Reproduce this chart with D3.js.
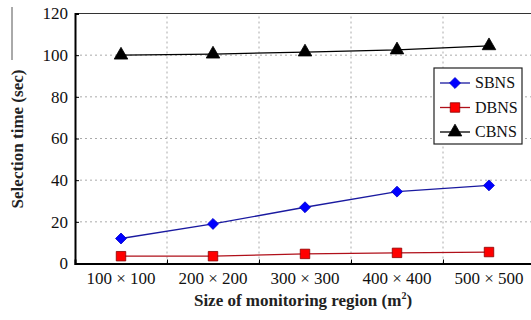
<!DOCTYPE html>
<html><head><meta charset="utf-8">
<script src="https://cdn.jsdelivr.net/npm/d3@7"></script>
<style>body{margin:0;background:#fff}svg{display:block}</style>
</head><body>
<script>
const categories = ["100 × 100","200 × 200","300 × 300","400 × 400","500 × 500"];
const sbns = [12, 19, 27, 34.5, 37.5];
const dbns = [3.5, 3.5, 4.6, 5.1, 5.5];
const cbns = [100, 100.5, 101.5, 102.5, 104.5];
const yTicks = [0, 20, 40, 60, 80, 100, 120];
const seriesNames = ["SBNS","DBNS","CBNS"];

const W = 531, H = 320;
const m = {l: 75, r: -4, t: 13.5, b: 56.5};
const svg = d3.select("body").append("svg").attr("width", W).attr("height", H);

const x = d3.scaleLinear().domain([0.5, 5.5]).range([m.l, W - m.r]);
const y = d3.scaleLinear().domain([0, 120]).range([H - m.b, m.t]);

const g = svg.append("g");
g.selectAll(".hg").data(yTicks.filter(v => v > 0 && v < 120)).enter().append("line")
  .attr("x1", m.l).attr("x2", W).attr("y1", d => y(d)).attr("y2", d => y(d))
  .attr("stroke", "#aaa").attr("stroke-dasharray", "2,3").attr("stroke-width", 1);
g.selectAll(".vg").data([1.5, 2.5, 3.5, 4.5]).enter().append("line")
  .attr("x1", d => x(d)).attr("x2", d => x(d)).attr("y1", y(0)).attr("y2", y(120))
  .attr("stroke", "#aaa").attr("stroke-dasharray", "2,3").attr("stroke-width", 1);

svg.append("line").attr("x1", m.l).attr("x2", W).attr("y1", y(120)).attr("y2", y(120))
  .attr("stroke", "#333").attr("stroke-width", 1);

const yAxis = d3.axisLeft(y).tickValues(yTicks).tickSize(-4).tickPadding(7);
const ya = svg.append("g").attr("transform", `translate(${m.l},0)`).call(yAxis);
ya.select(".domain").attr("stroke", "#000").attr("stroke-width", 2);
ya.selectAll("text").attr("font-size", 17).attr("fill", "#111");

const xAxis = d3.axisBottom(x).tickValues([1.5, 2.5, 3.5, 4.5]).tickSize(-4).tickFormat("");
const xa = svg.append("g").attr("transform", `translate(0,${y(0)})`).call(xAxis);
xa.select(".domain").attr("stroke", "#000").attr("stroke-width", 2);

svg.append("g").selectAll("text").data(categories).enter().append("text")
  .attr("x", (d, i) => x(i + 1)).attr("y", y(0) + 20)
  .attr("text-anchor", "middle").attr("font-size", 17).attr("fill", "#111").text(d => d);

svg.append("text").attr("transform", `translate(23,139) rotate(-90)`)
  .attr("text-anchor", "middle").attr("font-size", 17).attr("font-weight", "bold").attr("fill", "#222")
  .text("Selection time (sec)");
const xl = svg.append("text").attr("x", 303).attr("y", 306).attr("text-anchor", "middle")
  .attr("font-size", 17).attr("font-weight", "bold").attr("fill", "#222");
xl.append("tspan").text("Size of monitoring region (m");
xl.append("tspan").attr("font-size", 10).attr("dy", -7).text("2");
xl.append("tspan").attr("dy", 7).text(")");
svg.append("line").attr("x1", 12).attr("x2", 12).attr("y1", 7).attr("y2", 60).attr("stroke", "#555").attr("stroke-width", 1);

const diamond = {draw(ctx, size) { const r = Math.sqrt(size / 2); ctx.moveTo(0, -r); ctx.lineTo(r, 0); ctx.lineTo(0, r); ctx.lineTo(-r, 0); ctx.closePath(); }};
const series = [
  {vals: sbns, line: "#1a1aa0", fill: "#0000ff", stroke: "#0000cc", sym: diamond, size: 60},
  {vals: dbns, line: "#b0101a", fill: "#ff0000", stroke: "#8b0000", sym: d3.symbolSquare, size: 90},
  {vals: cbns, line: "#000", fill: "#000", stroke: "#000", sym: d3.symbolTriangle, size: 80}
];
const line = d3.line().x((d, i) => x(i + 1)).y(d => y(d));
series.forEach(s => {
  svg.append("path").datum(s.vals).attr("d", line).attr("fill", "none")
    .attr("stroke", s.line).attr("stroke-width", 1.3);
  svg.append("g").selectAll("path").data(s.vals).enter().append("path")
    .attr("d", d3.symbol().type(s.sym).size(s.size))
    .attr("transform", (d, i) => `translate(${x(i + 1)},${y(d)})`)
    .attr("fill", s.fill).attr("stroke", s.stroke).attr("stroke-width", 0.8);
});

const lg = svg.append("g").attr("transform", "translate(434,68)");
lg.append("rect").attr("width", 88).attr("height", 76).attr("fill", "#fff").attr("stroke", "#222").attr("stroke-width", 1.2);
series.forEach((s, i) => {
  const yy = 15 + i * 24.5;
  lg.append("line").attr("x1", 6).attr("x2", 36).attr("y1", yy).attr("y2", yy).attr("stroke", s.line).attr("stroke-width", 1.3);
  lg.append("path").attr("d", d3.symbol().type(s.sym).size(s.size)).attr("transform", `translate(21,${yy})`)
    .attr("fill", s.fill).attr("stroke", s.stroke).attr("stroke-width", 0.8);
  lg.append("text").attr("x", 41).attr("y", yy + 5).attr("font-size", 16).attr("fill", "#111").text(seriesNames[i]);
});

svg.selectAll("text").attr("font-family", "Liberation Serif").style("font-family", "Liberation Serif");
</script>
</body></html>
